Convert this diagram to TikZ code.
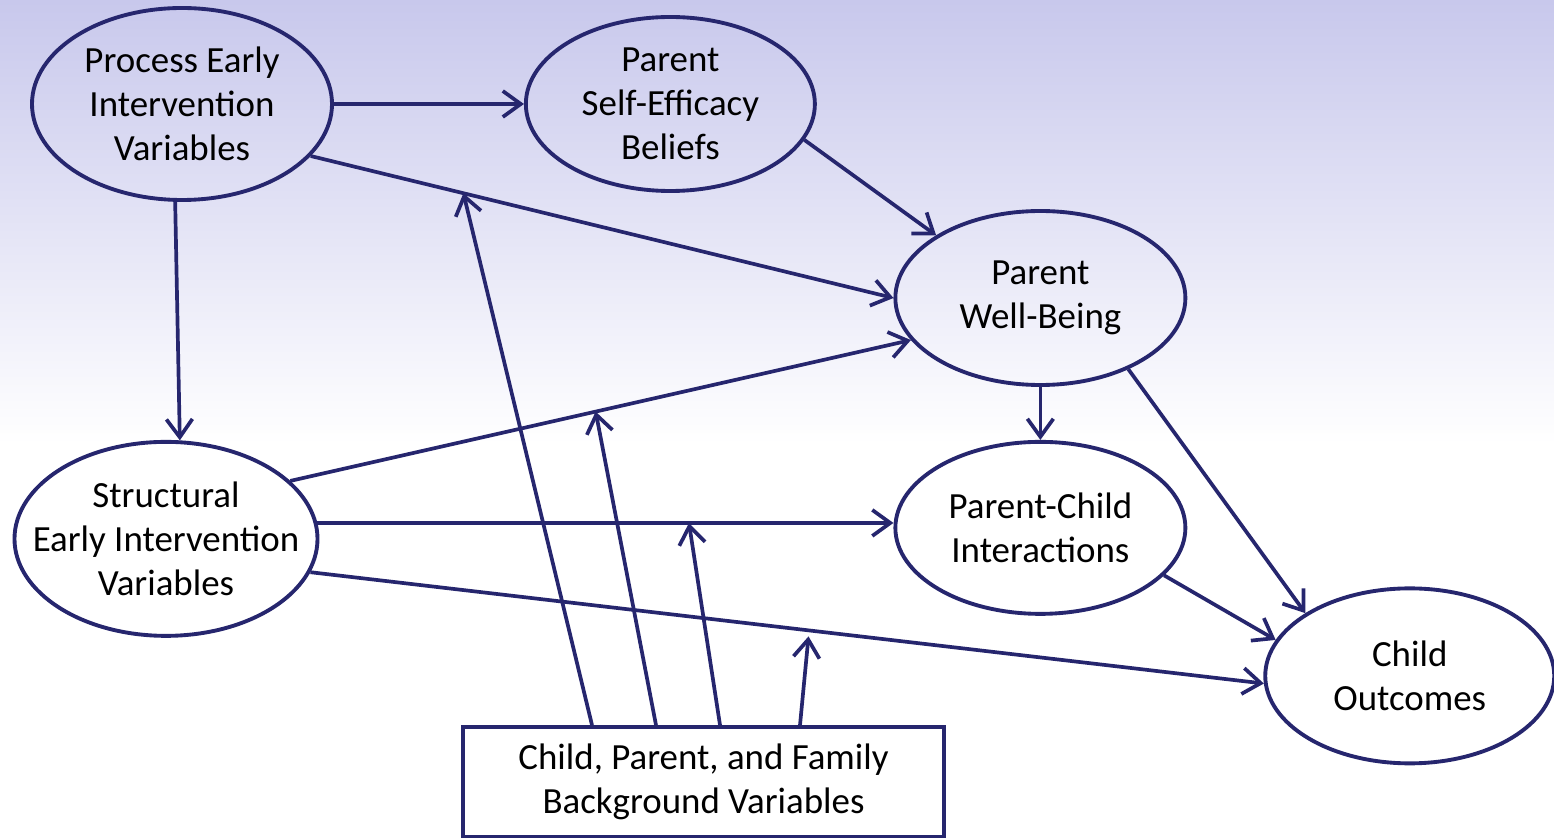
\documentclass[tikz,border=0pt]{standalone}
\usepackage{fontspec}
\setmainfont{Carlito}
\usetikzlibrary{shapes,arrows.meta,positioning}
\definecolor{navy}{RGB}{38,38,110}
\definecolor{bgtop}{RGB}{200,200,236}

\begin{document}
\begin{tikzpicture}[
    x=1mm, y=1mm,
    node distance=1cm,
    var/.style={ellipse, draw=navy, line width=1.1pt, inner sep=-6mm, align=center, font=\fontsize{10.5}{12.5}\selectfont},
    famvar/.style={rectangle, draw=navy, line width=1.1pt, minimum width=48.1mm, minimum height=11mm, align=center, font=\fontsize{10.5}{12.5}\selectfont},
    arrow/.style={-{Straight Barb[length=1.8mm, width=2.6mm]}, draw=navy, line width=1.05pt}
]

% Background
\useasboundingbox (0,0) rectangle (155.4,-83.8);
\fill[white] (0,-44) rectangle (155.4,-83.8);
\shade[top color=bgtop, bottom color=white] (0,0) rectangle (155.4,-44.5);

% Early intervention variables
\node[var, minimum width=30mm, minimum height=19.2mm] (process) at (18.2,-10.4) {Process Early\\Intervention\\Variables};
\node[var, minimum width=30.3mm, minimum height=19.4mm, below=23.8mm of process, xshift=-1.6mm] (structural) {Structural\\Early Intervention\\Variables};

% Parent variables
\node[var, minimum width=28.9mm, minimum height=17.4mm, right=19mm of process] (selfeff) {Parent\\Self-Efficacy\\Beliefs};
\node[var, minimum width=29mm, minimum height=17.2mm, right=57.4mm of structural, yshift=1.1mm] (parentchild) {Parent-Child\\Interactions};
\node[var, minimum width=29mm, minimum height=17.4mm, above=5.3mm of parentchild] (wellbeing) {Parent\\Well-Being};

% Outcomes
\node[var, minimum width=28.9mm, minimum height=17.5mm, right=7.6mm of parentchild, yshift=-14.8mm] (childout) {Child\\Outcomes};

% Background variables
\node[famvar] (famvars) at (70.35,-78.2) {Child, Parent, and Family\\Background Variables};

% Arrows - from process variables
\draw[arrow] (process.east) -- (selfeff.west);
\draw[arrow] (process.-22) -- coordinate[pos=0.262] (m_pw) (wellbeing.west);
\draw[arrow] (process.-94) -- (structural.82);

% Arrows - parent variables
\draw[arrow] (selfeff.-15) -- (wellbeing.149);
\draw[arrow] (wellbeing.south) -- (parentchild.north);
\draw[arrow] (wellbeing.-39) -- (childout.149);
\draw[arrow] (parentchild.-21) -- (childout.165);

% Arrows - from structural variables
\draw[arrow] (structural.25) -- coordinate[pos=0.492] (m_sw) (wellbeing.198);
\draw[arrow] (structural.6) -- coordinate[pos=0.645] (m_sp) (structural.6 -| parentchild.west);
\draw[arrow] (structural.-13) -- coordinate[pos=0.523] (m_sc) (childout.183);

% Arrows - background variables
\draw[arrow] ([xshift=-11.15mm]famvars.north) -- (m_pw);
\draw[arrow] ([xshift=-4.75mm]famvars.north) -- (m_sw);
\draw[arrow] ([xshift=1.65mm]famvars.north) -- (m_sp);
\draw[arrow, shorten >=0.6mm] ([xshift=9.65mm]famvars.north) -- (m_sc);

\end{tikzpicture}
\end{document}
